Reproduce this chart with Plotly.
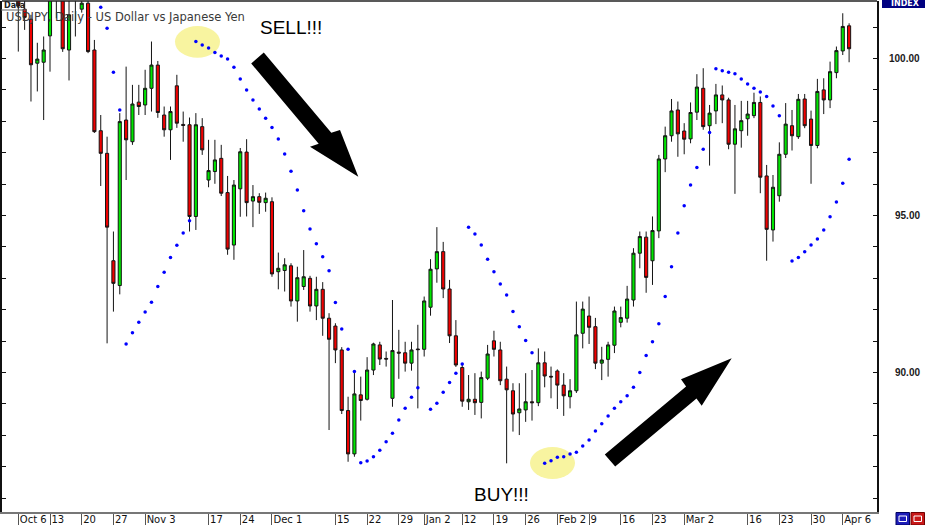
import plotly.graph_objects as go
import pandas as pd

# ---------------- data ----------------
dates = [d.strftime("%Y-%m-%d") for d in pd.bdate_range("2008-10-06", "2009-04-07")]

opens = [102.40, 101.57, 101.25, 99.85, 99.88, 100.72, 102.60, 102.00, 100.27, 102.40,
         101.57, 101.76, 100.27, 97.70, 96.98, 93.56, 92.77, 98.04, 97.35, 98.61,
         98.52, 99.05, 99.79, 98.20, 97.73, 99.13, 97.90, 97.89, 94.97, 97.83,
         96.13, 96.40, 96.82, 95.73, 94.06, 95.85, 97.02, 95.46, 95.60, 95.41,
         95.44, 93.21, 93.25, 93.40, 92.28, 92.74, 93.00, 92.12, 92.65, 91.73,
         91.48, 90.72, 88.79, 87.41, 89.29, 89.15, 90.08, 90.88, 90.45, 89.18,
         90.65, 90.63, 90.30, 90.75, 90.74, 92.08, 93.30, 93.85, 92.66, 91.17,
         90.16, 89.07, 89.15, 89.05, 89.82, 91.01, 90.72, 89.79, 89.42, 88.72,
         88.81, 89.07, 89.04, 90.31, 89.88, 90.05, 89.60, 89.23, 89.42, 91.25,
         91.80, 91.46, 90.30, 90.42, 90.87, 91.60, 91.73, 92.31, 93.80, 94.31,
         93.56, 94.51, 96.80, 97.54, 98.36, 97.69, 97.44, 98.29, 99.05, 97.86,
         98.33, 98.84, 98.68, 97.27, 97.70, 98.08, 98.18, 98.60, 96.26, 94.54,
         95.63, 96.95, 97.86, 97.51, 98.71, 98.07, 97.23, 99.00, 98.68, 99.55,
         100.24, 101.04]

highs = [103.00, 101.95, 101.39, 100.50, 100.70, 102.80, 102.90, 102.30, 102.20, 102.60,
         102.00, 102.10, 100.59, 98.20, 97.51, 94.49, 98.26, 99.74, 99.16, 99.16,
         99.64, 100.54, 99.92, 98.47, 98.47, 99.48, 98.31, 98.12, 98.26, 98.10,
         97.41, 97.41, 97.25, 96.26, 96.13, 97.15, 97.43, 95.97, 95.71, 95.73,
         95.58, 93.82, 93.64, 93.48, 93.37, 93.90, 93.08, 93.05, 92.88, 91.89,
         91.57, 90.81, 89.23, 90.03, 89.87, 90.49, 90.95, 90.98, 90.67, 92.31,
         91.36, 90.98, 90.98, 91.52, 92.42, 93.61, 94.63, 94.16, 92.95, 91.67,
         90.30, 89.92, 89.98, 90.03, 90.88, 91.33, 90.98, 90.19, 89.66, 89.66,
         89.98, 90.08, 90.77, 90.67, 90.19, 90.10, 89.98, 89.79, 92.26, 92.26,
         92.42, 91.74, 90.82, 90.98, 92.10, 92.10, 92.76, 93.96, 94.49, 94.49,
         94.97, 96.93, 97.83, 98.71, 98.63, 97.94, 98.60, 99.50, 99.69, 98.52,
         99.19, 99.14, 98.75, 98.52, 98.65, 98.65, 98.91, 98.79, 96.61, 96.29,
         97.33, 98.58, 98.36, 98.87, 98.87, 98.34, 99.35, 99.37, 99.90, 100.38,
         101.44, 101.12]

lows = [100.22, 100.91, 98.63, 98.95, 98.04, 99.58, 101.28, 100.21, 99.30, 100.70,
        101.46, 100.17, 97.63, 95.94, 90.93, 91.94, 92.49, 96.13, 97.25, 98.20,
        98.20, 98.31, 98.11, 97.51, 96.77, 97.79, 97.35, 94.49, 94.54, 96.93,
        95.90, 96.01, 95.62, 93.75, 93.59, 94.96, 94.97, 94.63, 95.05, 95.12,
        93.05, 92.65, 92.58, 92.10, 91.62, 92.63, 91.94, 91.67, 91.17, 88.17,
        90.30, 88.68, 87.16, 87.32, 88.47, 89.11, 89.92, 90.24, 90.19, 88.91,
        89.80, 90.03, 90.06, 88.86, 90.51, 91.81, 92.86, 92.37, 90.94, 90.18,
        88.91, 88.81, 88.65, 88.54, 89.76, 90.51, 89.60, 87.11, 88.12, 88.01,
        88.43, 88.47, 88.93, 89.53, 89.18, 88.84, 88.62, 88.86, 89.35, 90.77,
        90.91, 90.11, 89.76, 89.87, 90.62, 91.44, 91.59, 92.10, 93.32, 92.54,
        92.79, 94.28, 96.38, 97.35, 96.87, 96.95, 97.30, 98.04, 97.73, 96.59,
        97.91, 97.94, 97.11, 95.69, 97.16, 97.54, 98.10, 95.71, 93.56, 94.17,
        95.44, 96.83, 97.07, 97.44, 97.78, 96.01, 97.14, 98.23, 98.42, 99.37,
        100.11, 99.88]

closes = [101.67, 101.31, 99.80, 99.98, 100.27, 102.30, 102.10, 100.31, 101.39, 102.00,
          101.76, 100.22, 97.67, 96.98, 94.63, 92.84, 97.99, 97.41, 98.55, 98.47,
          99.05, 99.79, 98.28, 97.73, 98.31, 97.94, 97.87, 94.97, 97.89, 97.09,
          96.43, 96.77, 95.71, 93.93, 95.97, 97.03, 95.41, 95.60, 95.42, 95.55,
          93.14, 93.32, 93.43, 92.28, 93.02, 93.05, 92.12, 92.65, 91.73, 91.06,
          90.72, 88.79, 87.41, 89.32, 89.11, 90.08, 90.91, 90.43, 90.43, 90.70,
          90.62, 90.30, 90.72, 90.73, 92.28, 93.29, 93.85, 92.66, 91.17, 90.24,
          89.09, 89.15, 89.04, 89.84, 90.59, 90.74, 89.74, 89.45, 88.68, 88.84,
          89.07, 89.04, 90.31, 89.89, 89.86, 89.60, 89.26, 89.42, 91.20, 92.02,
          91.44, 90.30, 90.40, 90.88, 91.96, 91.75, 92.34, 93.80, 94.33, 93.03,
          94.52, 96.80, 97.54, 98.33, 97.60, 97.43, 98.28, 99.09, 97.83, 98.26,
          98.84, 98.68, 97.27, 97.76, 98.02, 98.23, 98.60, 96.22, 94.56, 95.90,
          96.95, 97.91, 97.54, 98.70, 97.86, 97.23, 98.95, 98.68, 99.58, 100.25,
          101.02, 100.31]

# Parabolic SAR dots (None = not visible on the chart)
sar = [None, None, None, None, None, None, None, None, None, None,
       None, None, None, 101.63, 100.96, 99.56, 98.36, 90.91, 91.27, 91.60,
       91.93, 92.24, 92.74, 93.19, 93.66, 94.05, 94.44, 94.83, 100.54, 100.43,
       100.33, 100.19, 100.08, 99.98, 99.72, 99.35, 99.00, 98.68, 98.39, 98.10,
       97.80, 97.44, 96.96, 96.41, 95.81, 95.15, 94.57, 94.10, 93.69, 93.24,
       92.23, 91.39, 90.74, 90.03, 87.13, 87.18, 87.32, 87.53, 87.80, 88.07,
       88.49, 88.86, 89.21, 89.52, None, 88.83, 89.02, 89.37, 89.68, 89.98,
       90.27, 94.63, 94.41, 94.06, 93.61, 93.21, 92.82, 92.47, 91.94, 91.46,
       91.02, 90.63, None, 87.11, 87.19, 87.30, 87.32, 87.41, 87.46, 87.66,
       87.85, 88.14, 88.37, 88.62, 88.86, 89.07, 89.26, 89.53, 90.00, 90.54,
       90.98, 91.55, 92.42, 93.37, 94.44, 95.31, 95.97, 96.53, 97.11, 97.64,
       99.67, 99.61, 99.56, 99.51, 99.35, 99.19, 99.05, 98.93, 98.79, 98.49,
       98.18, None, 93.55, 93.66, 93.85, 94.06, 94.25, 94.54, 94.96, 95.43,
       96.03, 96.79]

tick_dates = ["2008-10-06", "2008-10-13", "2008-10-20", "2008-10-27", "2008-11-03",
              "2008-11-17", "2008-11-24", "2008-12-01", "2008-12-15", "2008-12-22",
              "2008-12-29", "2009-01-02", "2009-01-12", "2009-01-19", "2009-01-26",
              "2009-02-02", "2009-02-09", "2009-02-16", "2009-02-23", "2009-03-02",
              "2009-03-16", "2009-03-23", "2009-03-30", "2009-04-06"]
tick_text = ["Oct 6", "13", "20", "27", "Nov 3", "17", "24", "Dec 1", "15", "22",
             "29", "Jan 2", "12", "19", "26", "Feb 2", "9", "16", "23", "Mar 2",
             "16", "23", "30", "Apr 6"]

price_labels = [90, 95, 100]
y_range = [85.56, 101.83]

title_text = "USDJPY, Daily - US Dollar vs Japanese Yen"

# ---------------- layout helpers (pixel -> paper) ----------------
W, H = 925, 525
ML, MR, MT, MB = 2, 48, 1, 13
PW, PH = W - ML - MR, H - MT - MB


def px(x):
    return (x - ML) / PW


def py(y):
    return (H - MB - y) / PH


def path(points):
    return "M " + " L ".join(f"{px(a):.5f},{py(b):.5f}" for a, b in points) + " Z"


fig = go.Figure()
fig.add_trace(go.Candlestick(
    x=dates, open=opens, high=highs, low=lows, close=closes,
    increasing=dict(fillcolor="#00e600", line=dict(color="#141414", width=1)),
    decreasing=dict(fillcolor="#f00000", line=dict(color="#141414", width=1)),
    whiskerwidth=0, hoverinfo="skip", showlegend=False))
fig.add_trace(go.Scatter(
    x=dates, y=sar, mode="markers",
    marker=dict(color="#0000ff", size=3.5, line=dict(width=0)),
    hoverinfo="skip", showlegend=False))

shapes = [
    # highlight ellipses
    dict(type="circle", xref="paper", yref="paper", x0=px(175), x1=px(220),
         y0=py(57.7), y1=py(26), fillcolor="#f8f4a0", line=dict(width=0), layer="below"),
    dict(type="circle", xref="paper", yref="paper", x0=px(530), x1=px(575),
         y0=py(479), y1=py(447), fillcolor="#f8f4a0", line=dict(width=0), layer="below"),
    # SELL arrow
    dict(type="path", xref="paper", yref="paper",
         path=path([(263.8, 52.5), (331.3, 132.8), (340, 130), (358.3, 176.7),
                    (310, 146.7), (318.7, 143.8), (251.2, 63.5)]),
         fillcolor="black", line=dict(width=0)),
    # BUY arrow
    dict(type="path", xref="paper", yref="paper",
         path=path([(604.8, 454.4), (686.1, 386.4), (681, 379.3), (731.7, 358.3),
                    (701.7, 405.7), (696.5, 398.6), (615.2, 466.6)]),
         fillcolor="black", line=dict(width=0)),
    # top border
    dict(type="line", xref="paper", yref="paper", x0=0, x1=1, y0=1, y1=1,
         line=dict(color="#222222", width=1.5)),
    # "Data" underline
    dict(type="line", xref="paper", yref="paper", x0=px(1), x1=px(26), y0=py(10), y1=py(10),
         line=dict(color="#666666", width=1)),
    # INDEX box
    dict(type="rect", xref="paper", yref="paper", x0=px(882), x1=px(927), y0=py(8), y1=py(-3),
         fillcolor="#000080", line=dict(width=0)),
    # bottom-right buttons
    dict(type="rect", xref="paper", yref="paper", x0=px(896), x1=px(909.5), y0=py(525), y1=py(512.5),
         fillcolor="#1c1cb8", line=dict(color="#000060", width=1)),
    dict(type="rect", xref="paper", yref="paper", x0=px(911), x1=px(924.5), y0=py(525), y1=py(512.5),
         fillcolor="#c81818", line=dict(color="#700000", width=1)),
    dict(type="rect", xref="paper", yref="paper", x0=px(899), x1=px(906.5), y0=py(521.5), y1=py(516),
         fillcolor="rgba(0,0,0,0)", line=dict(color="white", width=1)),
    dict(type="rect", xref="paper", yref="paper", x0=px(914), x1=px(921.5), y0=py(521.5), y1=py(516),
         fillcolor="rgba(0,0,0,0)", line=dict(color="white", width=1)),
]

annotations = [
    dict(xref="paper", yref="paper", x=px(4), y=py(17), xanchor="left", yanchor="middle",
         text=title_text, showarrow=False, font=dict(size=11.5, color="#3a3a3a", family="DejaVu Sans")),
    dict(xref="paper", yref="paper", x=px(2), y=py(5.5), xanchor="left", yanchor="middle",
         text="<b>Data</b>", showarrow=False, font=dict(size=8, color="#222222", family="DejaVu Sans")),
    dict(xref="paper", yref="paper", x=px(291), y=py(27), xanchor="center", yanchor="middle",
         text="SELL!!!", showarrow=False, font=dict(size=19, color="black", family="Liberation Sans")),
    dict(xref="paper", yref="paper", x=px(501), y=py(494), xanchor="center", yanchor="middle",
         text="BUY!!!", showarrow=False, font=dict(size=19, color="black", family="Liberation Sans")),
    dict(xref="paper", yref="paper", x=px(905), y=py(3.5), xanchor="center", yanchor="middle",
         text="<b>INDEX</b>", showarrow=False, font=dict(size=8, color="white", family="DejaVu Sans")),
]
for v in price_labels:
    annotations.append(dict(xref="paper", yref="y", x=px(922), y=v, xanchor="right", yanchor="middle",
                            text=f"<b>{v:.2f}</b>", showarrow=False,
                            font=dict(size=10, color="#1a1a1a", family="Liberation Sans")))

fig.update_layout(
    width=W, height=H, margin=dict(l=ML, r=MR, t=MT, b=MB, pad=0),
    paper_bgcolor="white", plot_bgcolor="white", template="none",
    font=dict(family="DejaVu Sans", size=10, color="#111111"),
    showlegend=False, hovermode=False,
    xaxis=dict(type="category", range=[-2.57, 135.4], rangeslider=dict(visible=False),
               tickmode="array", tickvals=tick_dates, ticktext=tick_text, tickangle=0,
               ticks="outside", ticklen=13, tickwidth=1, tickcolor="#555555",
               ticklabelposition="outside right", ticklabelstandoff=-3,
               tickfont=dict(size=10, color="#111111", family="DejaVu Sans"),
               showline=True, linecolor="#777777", linewidth=2,
               showgrid=False, zeroline=False, automargin=False, fixedrange=True),
    yaxis=dict(side="right", range=y_range, tick0=0, dtick=1,
               ticks="inside", ticklen=4, tickwidth=1, tickcolor="#111111",
               showticklabels=False, showline=True, linecolor="#111111", linewidth=1.5,
               mirror="ticks", showgrid=False, zeroline=False, automargin=False, fixedrange=True),
    shapes=shapes, annotations=annotations,
)

fig.write_html("out.html", config={"displayModeBar": False},
               post_script="document.body.style.margin='0px';document.body.style.overflow='hidden';")
